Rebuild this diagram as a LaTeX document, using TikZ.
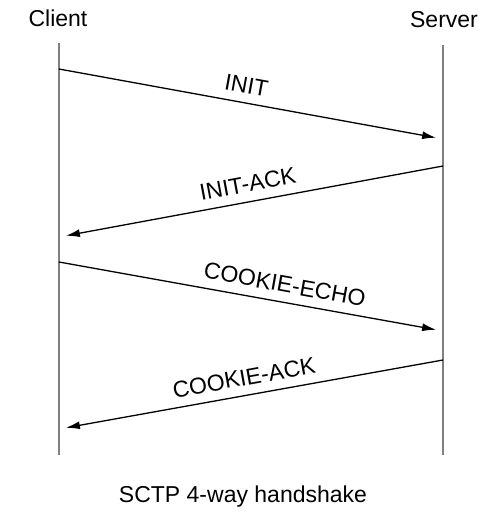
\documentclass[tikz,border=0pt]{standalone}
\usepackage{fontspec}
\setmainfont{Liberation Sans}
\usetikzlibrary{arrows.meta, positioning, calc}

\begin{document}
\begin{tikzpicture}[x=1pt,y=-1pt,font=\fontsize{23}{27}\selectfont,
  lifeline/.style={draw=black!50,line width=2.2pt},
  msg/.style={-{Latex[length=14pt,width=8pt]},line width=1.3pt,shorten >=7pt},
  msglabel/.style={sloped,above=7pt,inner sep=2pt}]
\useasboundingbox (0,0) rectangle (486,514);
% Endpoints
\node (client) at (58,18) {Client};
\node (server) at (444,20) {Server};
\coordinate (ctop) at (59,43);
\coordinate (cbot) at (59,455);
\coordinate (stop) at (443,45);
\coordinate (sbot) at (443,455);
% Lifelines
\draw[lifeline] (ctop) -- (cbot);
\draw[lifeline] (stop) -- (sbot);
% Message ends
\coordinate (c1) at (59,69);
\coordinate (s1) at (443,139);
\coordinate (s2) at (443,166);
\coordinate (c2) at (59,237);
\coordinate (c3) at (59,262);
\coordinate (s3) at (443,331);
\coordinate (s4) at (443,360);
\coordinate (c4) at (59,429);
% Messages
\draw[msg] (c1) -- node[msglabel,pos=0.48] {INIT} (s1);
\draw[msg] (s2) -- node[msglabel,pos=0.5] {INIT-ACK} (c2);
\draw[msg] (c3) -- node[msglabel,pos=0.58] {COOKIE-ECHO} (s3);
\draw[msg] (s4) -- node[msglabel,pos=0.51] {COOKIE-ACK} (c4);
% Caption
\node (caption) at (243,497) {SCTP 4-way handshake};
\end{tikzpicture}
\end{document}
